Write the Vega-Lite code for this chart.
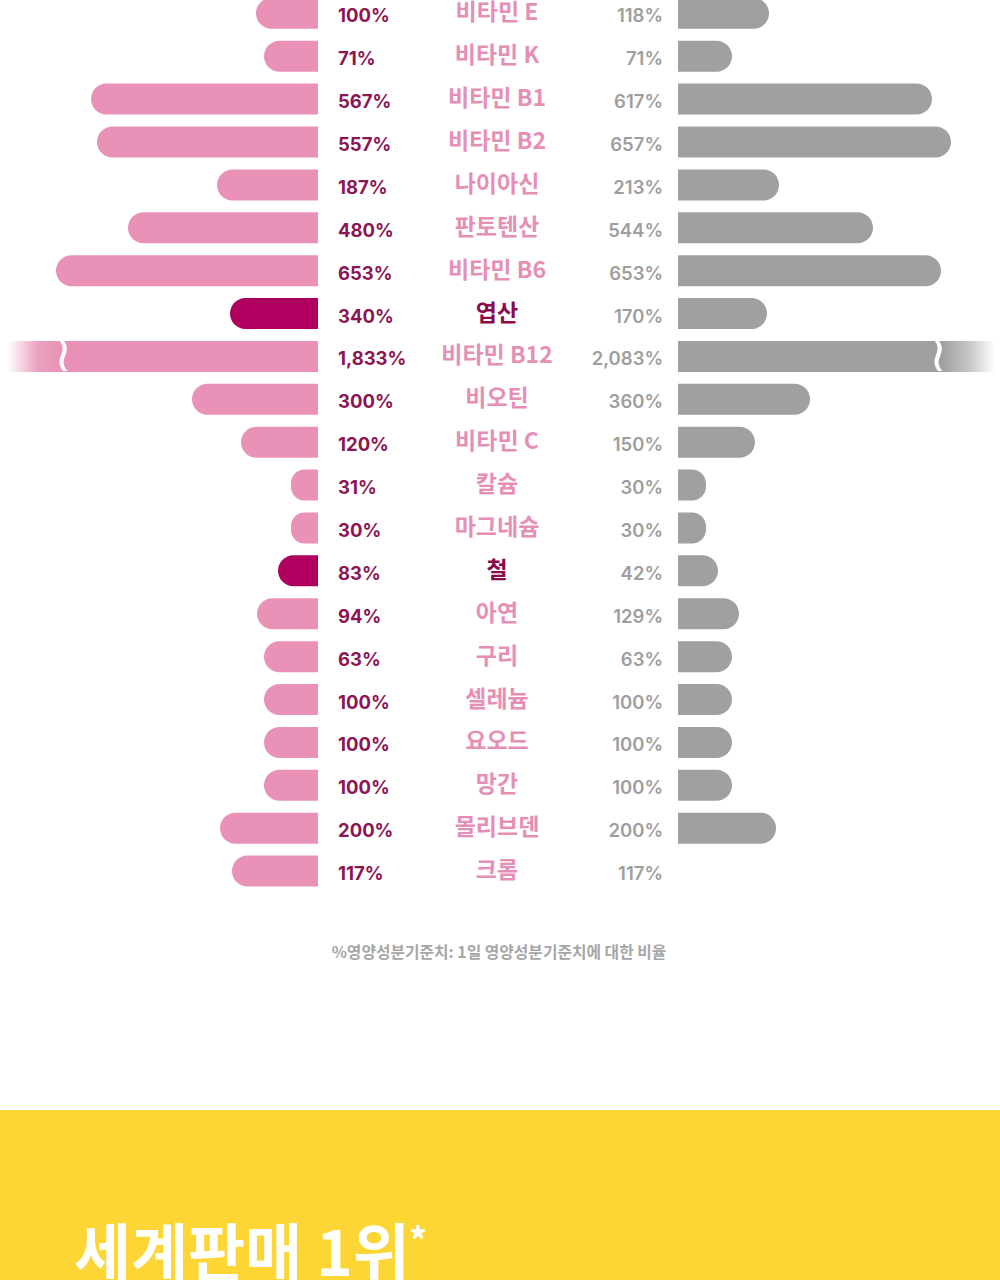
{
  "$schema": "https://vega.github.io/schema/vega-lite/v6.json",
  "width": 1000,
  "height": 1280,
  "autosize": {"type": "fit", "contains": "padding"},
  "padding": 0,
  "background": "#ffffff",
  "config": {"view": {"stroke": null}},
  "datasets": {
    "rows": [
      {"name": "비타민 E", "left": 1.00, "right": 1.18, "leftBar": 62, "rightBar": 91},
      {"name": "비타민 K", "left": 0.71, "right": 0.71, "leftBar": 54, "rightBar": 54},
      {"name": "비타민 B1", "left": 5.67, "right": 6.17, "leftBar": 227, "rightBar": 254},
      {"name": "비타민 B2", "left": 5.57, "right": 6.57, "leftBar": 221, "rightBar": 273},
      {"name": "나이아신", "left": 1.87, "right": 2.13, "leftBar": 101, "rightBar": 101},
      {"name": "판토텐산", "left": 4.80, "right": 5.44, "leftBar": 190, "rightBar": 195},
      {"name": "비타민 B6", "left": 6.53, "right": 6.53, "leftBar": 262, "rightBar": 263},
      {"name": "엽산", "left": 3.40, "right": 1.70, "leftBar": 88, "rightBar": 89},
      {"name": "비타민 B12", "left": 18.33, "right": 20.83, "leftBar": 318, "rightBar": 322},
      {"name": "비오틴", "left": 3.00, "right": 3.60, "leftBar": 126, "rightBar": 132},
      {"name": "비타민 C", "left": 1.20, "right": 1.50, "leftBar": 77, "rightBar": 77},
      {"name": "칼슘", "left": 0.31, "right": 0.30, "leftBar": 27, "rightBar": 28},
      {"name": "마그네슘", "left": 0.30, "right": 0.30, "leftBar": 27, "rightBar": 28},
      {"name": "철", "left": 0.83, "right": 0.42, "leftBar": 40, "rightBar": 40},
      {"name": "아연", "left": 0.94, "right": 1.29, "leftBar": 61, "rightBar": 61},
      {"name": "구리", "left": 0.63, "right": 0.63, "leftBar": 54, "rightBar": 54},
      {"name": "셀레늄", "left": 1.00, "right": 1.00, "leftBar": 54, "rightBar": 54},
      {"name": "요오드", "left": 1.00, "right": 1.00, "leftBar": 54, "rightBar": 54},
      {"name": "망간", "left": 1.00, "right": 1.00, "leftBar": 54, "rightBar": 54},
      {"name": "몰리브덴", "left": 2.00, "right": 2.00, "leftBar": 98, "rightBar": 98},
      {"name": "크롬", "left": 1.17, "right": 1.17, "leftBar": 86, "rightBar": null}
    ],
    "footnote": [{"text": "%영양성분기준치: 1일 영양성분기준치에 대한 비율"}],
    "banner": [{"headline": "세계판매 1위", "star": "*"}]
  },
  "resolve": {"scale": {"x": "independent", "y": "independent"}},
  "layer": [
    {
      "data": {"name": "banner"},
      "layer": [
        {
          "mark": {"type": "rect", "color": "#fdd535"},
          "encoding": {
            "x": {"datum": 0, "type": "quantitative", "scale": {"domain": [0, 1000], "nice": false, "zero": false}, "axis": null},
            "x2": {"datum": 1000},
            "y": {"datum": 1110, "type": "quantitative", "scale": {"domain": [0, 1280], "reverse": true, "nice": false, "zero": false}, "axis": null},
            "y2": {"datum": 1280}
          }
        },
        {
          "mark": {"type": "text", "align": "left", "baseline": "alphabetic", "font": "Noto Sans CJK KR", "fontSize": 62, "fontWeight": "bold", "color": "#ffffff", "clip": true},
          "encoding": {
            "x": {"datum": 74, "type": "quantitative"},
            "y": {"datum": 1276, "type": "quantitative"},
            "text": {"field": "headline"}
          }
        },
        {
          "mark": {"type": "text", "align": "left", "baseline": "alphabetic", "font": "Noto Sans CJK KR", "fontSize": 36, "fontWeight": "bold", "color": "#ffffff", "clip": true},
          "encoding": {
            "x": {"datum": 409, "type": "quantitative"},
            "y": {"datum": 1254, "type": "quantitative"},
            "text": {"field": "star"}
          }
        },
        {
          "data": {"name": "footnote"},
          "mark": {"type": "text", "align": "center", "baseline": "middle", "font": "Noto Sans CJK KR", "fontSize": 15.8, "fontWeight": "bold", "color": "#a6a6a6"},
          "encoding": {
            "x": {"datum": 499, "type": "quantitative"},
            "y": {"datum": 953, "type": "quantitative"},
            "text": {"field": "text"}
          }
        }
      ]
    },
    {
      "data": {"name": "rows"},
      "encoding": {
        "y": {
          "field": "name", "type": "nominal", "sort": null, "axis": null,
          "scale": {
            "domain": ["비타민 E", "비타민 K", "비타민 B1", "비타민 B2", "나이아신", "판토텐산", "비타민 B6", "엽산", "비타민 B12", "비오틴", "비타민 C", "칼슘", "마그네슘", "철", "아연", "구리", "셀레늄", "요오드", "망간", "몰리브덴", "크롬"],
            "range": [-8.1, 892.5],
            "paddingInner": 0.277,
            "paddingOuter": 0.1385
          }
        }
      },
      "resolve": {"scale": {"x": "independent"}},
      "layer": [
        {
          "transform": [{"filter": "datum.name !== '비타민 B12'"}],
          "mark": {"type": "bar", "cornerRadiusTopLeft": 15.5, "cornerRadiusBottomLeft": 15.5, "clip": true},
          "encoding": {
            "x": {"field": "leftBar", "type": "quantitative", "scale": {"domain": [-682, 318], "reverse": true, "nice": false, "zero": false}, "axis": null},
            "x2": {"datum": 0},
            "color": {"condition": {"test": "datum.name === '엽산' || datum.name === '철'", "value": "#b0005f"}, "value": "#e991b6"}
          }
        },
        {
          "transform": [{"filter": "datum.name === '비타민 B12'"}],
          "mark": {
            "type": "bar", "clip": true,
            "color": {"gradient": "linear", "x1": 0, "y1": 0, "x2": 1, "y2": 0,
              "stops": [{"offset": 0, "color": "#ffffff"}, {"offset": 0.025, "color": "#ffffff"}, {"offset": 0.12, "color": "#eba0c0"}, {"offset": 0.2, "color": "#e991b6"}, {"offset": 1, "color": "#e991b6"}]}
          },
          "encoding": {
            "x": {"field": "leftBar", "type": "quantitative", "scale": {"domain": [-682, 318], "reverse": true, "nice": false, "zero": false}, "axis": null},
            "x2": {"datum": 0}
          }
        },
        {
          "transform": [{"filter": "datum.name !== '비타민 B12' && datum.rightBar != null"}],
          "mark": {"type": "bar", "color": "#a0a0a0", "cornerRadiusTopRight": 15.5, "cornerRadiusBottomRight": 15.5, "clip": true},
          "encoding": {
            "x": {"field": "rightBar", "type": "quantitative", "scale": {"domain": [-678, 322], "nice": false, "zero": false}, "axis": null},
            "x2": {"datum": 0}
          }
        },
        {
          "transform": [{"filter": "datum.name === '비타민 B12'"}],
          "mark": {
            "type": "bar", "clip": true,
            "color": {"gradient": "linear", "x1": 0, "y1": 0, "x2": 1, "y2": 0,
              "stops": [{"offset": 0, "color": "#a0a0a0"}, {"offset": 0.82, "color": "#a0a0a0"}, {"offset": 0.9, "color": "#c4c4c4"}, {"offset": 0.985, "color": "#ffffff"}, {"offset": 1, "color": "#ffffff"}]}
          },
          "encoding": {
            "x": {"field": "rightBar", "type": "quantitative", "scale": {"domain": [-678, 322], "nice": false, "zero": false}, "axis": null},
            "x2": {"datum": 0}
          }
        },
        {
          "transform": [{"filter": "datum.name === '비타민 B12'"}],
          "mark": {"type": "text", "align": "center", "baseline": "middle", "font": "DejaVu Sans", "fontSize": 50, "color": "#ffffff"},
          "encoding": {
            "x": {"datum": 63, "type": "quantitative", "scale": {"domain": [0, 1000], "nice": false, "zero": false}, "axis": null},
            "text": {"value": "≀"}
          }
        },
        {
          "transform": [{"filter": "datum.name === '비타민 B12'"}],
          "mark": {"type": "text", "align": "center", "baseline": "middle", "font": "DejaVu Sans", "fontSize": 50, "color": "#ffffff"},
          "encoding": {
            "x": {"datum": 938, "type": "quantitative", "scale": {"domain": [0, 1000], "nice": false, "zero": false}, "axis": null},
            "text": {"value": "≀"}
          }
        },
        {
          "mark": {"type": "text", "align": "left", "baseline": "middle", "font": "Inter", "fontSize": 18.5, "fontWeight": "bold", "color": "#8c1553", "dy": 3, "clip": true},
          "encoding": {
            "x": {"datum": 338, "type": "quantitative", "scale": {"domain": [0, 1000], "nice": false, "zero": false}, "axis": null},
            "text": {"field": "left", "type": "quantitative", "format": ",.0%"}
          }
        },
        {
          "mark": {"type": "text", "align": "center", "baseline": "middle", "font": "Noto Sans CJK KR", "fontSize": 23, "fontWeight": "bold", "clip": true},
          "encoding": {
            "x": {"datum": 497, "type": "quantitative", "scale": {"domain": [0, 1000], "nice": false, "zero": false}, "axis": null},
            "text": {"field": "name"},
            "color": {"condition": {"test": "datum.name === '엽산' || datum.name === '철'", "value": "#8a0a4c"}, "value": "#e68fb6"}
          }
        },
        {
          "mark": {"type": "text", "align": "right", "baseline": "middle", "font": "Inter", "fontSize": 18.5, "fontWeight": 600, "color": "#9e9e9e", "dy": 3, "clip": true},
          "encoding": {
            "x": {"datum": 663, "type": "quantitative", "scale": {"domain": [0, 1000], "nice": false, "zero": false}, "axis": null},
            "text": {"field": "right", "type": "quantitative", "format": ",.0%"}
          }
        }
      ]
    }
  ]
}
